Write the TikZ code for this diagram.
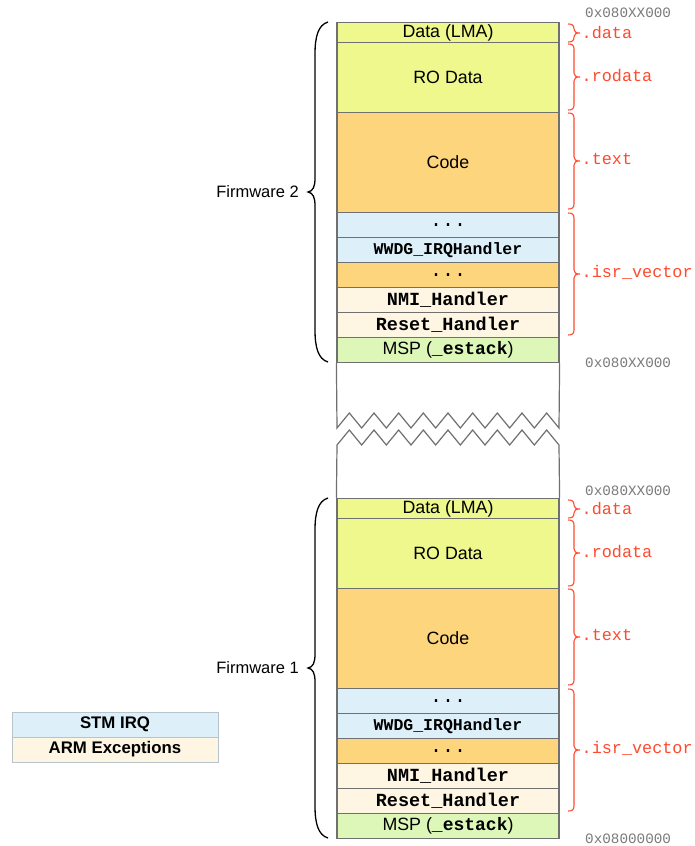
\documentclass[tikz,border=0pt]{standalone}
\usepackage{fontspec}
\setmainfont{Liberation Sans}
\setmonofont{Liberation Mono}
\definecolor{cLime}{HTML}{EEF88C}
\definecolor{cOrange}{HTML}{FCD57D}
\definecolor{cBlue}{HTML}{DDF0FA}
\definecolor{cCream}{HTML}{FEF6E2}
\definecolor{cGreen}{HTML}{DCF7B8}
\definecolor{cRed}{HTML}{FF4A2E}
\definecolor{cBorder}{HTML}{707070}
\definecolor{cAddr}{HTML}{7A7A7A}
\definecolor{cLegBorder}{HTML}{B8C4CC}
\newcommand\fs[1]{\fontsize{#1}{#1}\selectfont}
\tikzset{
  row/.style={draw=cBorder, line width=1.2pt, minimum width=222pt, inner sep=0pt, anchor=north, font=\fs{17.8}},
  monorow/.style={row, font=\fs{18.5}\ttfamily\bfseries},
  dotsrow/.style={row, font=\fs{20}\ttfamily},
  wwdgrow/.style={row, font=\fs{16.5}\ttfamily\bfseries},
  border/.style={draw=cBorder, line width=1.2pt, line join=miter},
  bigbr/.style={draw=black, line width=1.3pt},
  redbr/.style={draw=cRed, line width=1.1pt},
  sec/.style={text=cRed, anchor=west, inner sep=0pt, font=\fs{16.8}\ttfamily},
  addr/.style={text=cAddr, anchor=west, inner sep=0pt, font=\fs{14.3}\ttfamily},
  fwlabel/.style={anchor=east, inner sep=0pt, font=\fs{16.5}},
  leg/.style={draw=cLegBorder, line width=0.8pt, minimum width=206pt, minimum height=25pt, inner sep=0pt, font=\fs{16.8}\bfseries},
}
\newcommand\bigbrace[2]{%
  \pgfmathsetmacro\bmid{(#1+#2)/2}
  \draw[bigbr] (328,#1) .. controls (318,#1+3) and (315,#1+15) .. (315,#1+32) -- (315,\bmid-14) .. controls (315,\bmid-5) and (313,\bmid-1) .. (308,\bmid) .. controls (313,\bmid+1) and (315,\bmid+5) .. (315,\bmid+14) -- (315,#2-32) .. controls (315,#2-15) and (318,#2-3) .. (328,#2);
}
\newcommand\redbrace[2]{%
  \pgfmathsetmacro\rmid{(#1+#2)/2}
  \draw[redbr] (568,#1) .. controls (572,#1) and (574,#1+1) .. (574,#1+5) -- (574,\rmid-4) .. controls (574,\rmid-1) and (576,\rmid) .. (580,\rmid) .. controls (576,\rmid) and (574,\rmid+1) .. (574,\rmid+4) -- (574,#2-5) .. controls (574,#2-1) and (572,#2) .. (568,#2);
}
\newcommand\fwblock[3]{% #1 prefix, #2 offset, #3 label
  \begin{scope}[yshift=-#2pt]
    \node[row, fill=cLime, minimum height=20pt] (#1data) at (448,22) {Data (LMA)};
    \node[row, fill=cLime, minimum height=70pt] (#1ro) at (448,42) {RO Data};
    \node[row, fill=cOrange, minimum height=100pt] (#1code) at (448,112) {Code};
    \node[dotsrow, fill=cBlue, minimum height=25pt] (#1dotsa) at (448,212) {...};
    \node[wwdgrow, fill=cBlue, minimum height=25pt] (#1wwdg) at (448,237) {WWDG\_IRQHandler};
    \node[dotsrow, fill=cOrange, minimum height=25pt] (#1dotsb) at (448,262) {...};
    \node[monorow, fill=cCream, minimum height=25pt] (#1nmi) at (448,287) {NMI\_Handler};
    \node[monorow, fill=cCream, minimum height=25pt] (#1reset) at (448,312) {Reset\_Handler};
    \node[row, fill=cGreen, minimum height=25pt] (#1msp) at (448,337) {MSP ({\fs{18}\ttfamily\bfseries \_estack})};
    \bigbrace{22}{362}
    \node[fwlabel] (#1label) at (299,192) {#3};
    \redbrace{24}{42}
    \redbrace{44}{110}
    \redbrace{113}{209}
    \redbrace{213}{335}
    \node[sec] (#1secdata) at (581.5,33) {.data};
    \node[sec] (#1secro) at (581.5,76) {.rodata};
    \node[sec] (#1sectext) at (581.5,159) {.text};
    \node[sec] (#1secisr) at (581.5,272) {.isr\_vector};
  \end{scope}
}
\begin{document}
\begin{tikzpicture}[x=1pt, y=-1pt]
  \useasboundingbox (0,0) rectangle (694,846);
  \fill[white] (0,0) rectangle (694,846);
  \fwblock{fb}{0}{Firmware 2}
  \fwblock{fa}{476}{Firmware 1}
  % break region
  \draw[border] (fbmsp.south west) -- (337,428)
    \foreach \i in {1,...,9} { -- ++(12.333,-15) -- ++(12.333,15) } -- (fbmsp.south east);
  \draw[border] (fadata.north west) -- (337,445)
    \foreach \i in {1,...,9} { -- ++(12.333,-15) -- ++(12.333,15) } -- (fadata.north east);
  % addresses
  \node[addr] (addra) at (585,13) {0x080XX000};
  \node[addr] (addrb) at (585,363) {0x080XX000};
  \node[addr] (addrc) at (585,491) {0x080XX000};
  \node[addr] (addrd) at (585,839) {0x08000000};
  % legend
  \node[leg, fill=cBlue] (legirq) at (115,724.5) {STM IRQ};
  \node[leg, fill=cCream] (legarm) at (115,749.5) {ARM Exceptions};
\end{tikzpicture}
\end{document}
